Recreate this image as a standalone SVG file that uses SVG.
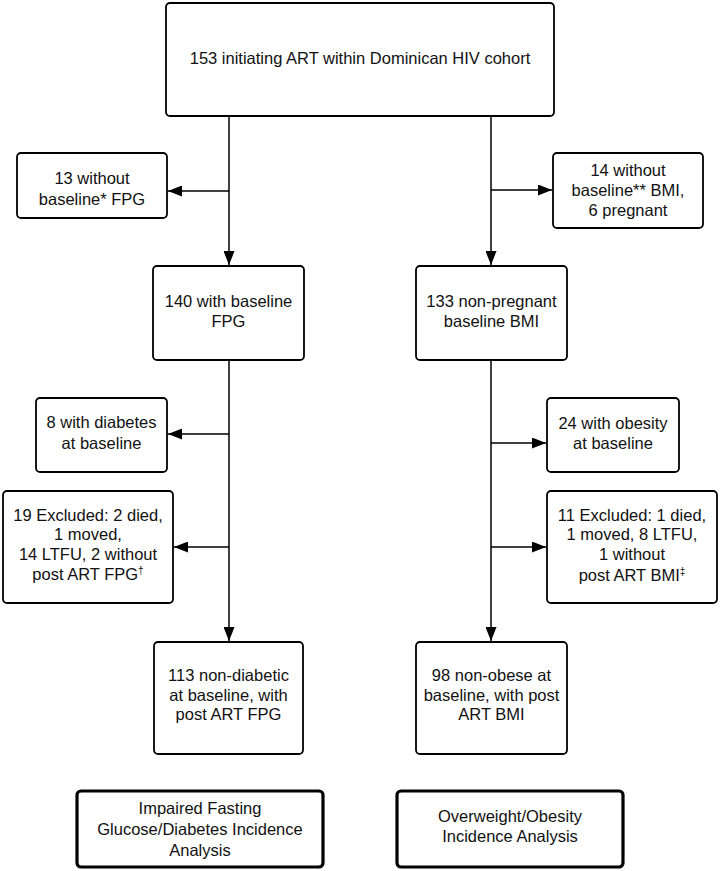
<svg xmlns="http://www.w3.org/2000/svg" width="720" height="871" viewBox="0 0 720 871">
<style>
.box{fill:#fff;stroke:#000;stroke-width:1.8}
.tbox{fill:#fff;stroke:#000;stroke-width:3.2}
.t{font-family:"Liberation Sans",Arial,sans-serif;font-size:16.5px;fill:#111;text-anchor:middle}
.sup{font-size:10px}
.c{fill:none;stroke:#000;stroke-width:1.5}
</style>
<defs>
<marker id="ah" markerWidth="14" markerHeight="11" refX="14" refY="5.5" orient="auto" markerUnits="userSpaceOnUse">
<path d="M0,0 L14,5.5 L0,11 Z" fill="#000"/>
</marker>
</defs>
<g id="connectors">
<path class="c" d="M229,116 V265" marker-end="url(#ah)"/>
<path class="c" d="M229,360 V641" marker-end="url(#ah)"/>
<path class="c" d="M491,116 V265" marker-end="url(#ah)"/>
<path class="c" d="M491,360 V641" marker-end="url(#ah)"/>
<path class="c" d="M229,191 H168" marker-end="url(#ah)"/>
<path class="c" d="M491,190 H552" marker-end="url(#ah)"/>
<path class="c" d="M229,434 H168" marker-end="url(#ah)"/>
<path class="c" d="M229,547 H174" marker-end="url(#ah)"/>
<path class="c" d="M491,443 H546" marker-end="url(#ah)"/>
<path class="c" d="M491,547 H546" marker-end="url(#ah)"/>
</g>
<g id="n-top">
<rect class="box" x="166" y="3" width="388" height="113" rx="4"/>
<text class="t" x="360" y="64">153 initiating ART within Dominican HIV cohort</text>
</g>
<g id="n-nofpg">
<rect class="box" x="17" y="153" width="150" height="65" rx="4"/>
<text class="t" x="92" y="184">13 without</text>
<text class="t" x="92" y="205">baseline* FPG</text>
</g>
<g id="n-nobmi">
<rect class="box" x="553" y="153" width="150" height="75" rx="4"/>
<text class="t" x="628" y="176">14 without</text>
<text class="t" x="628" y="196">baseline** BMI,</text>
<text class="t" x="628" y="216">6 pregnant</text>
</g>
<g id="n-fpg">
<rect class="box" x="153" y="266" width="151" height="94" rx="4"/>
<text class="t" x="228.5" y="307">140 with baseline</text>
<text class="t" x="228.5" y="327">FPG</text>
</g>
<g id="n-bmi">
<rect class="box" x="416" y="266" width="151" height="94" rx="4"/>
<text class="t" x="491.5" y="307">133 non-pregnant</text>
<text class="t" x="491.5" y="327">baseline BMI</text>
</g>
<g id="n-diab">
<rect class="box" x="36" y="398" width="131" height="74" rx="4"/>
<text class="t" x="101.5" y="428">8 with diabetes</text>
<text class="t" x="101.5" y="449">at baseline</text>
</g>
<g id="n-excl-l">
<rect class="box" x="3" y="491" width="170" height="112" rx="4"/>
<text class="t" x="88" y="521">19 Excluded: 2 died,</text>
<text class="t" x="88" y="540">1 moved,</text>
<text class="t" x="88" y="560">14 LTFU, 2 without</text>
<text class="t" x="88" y="580">post ART FPG<tspan class="sup" dy="-6">†</tspan></text>
</g>
<g id="n-obese">
<rect class="box" x="547" y="398" width="132" height="74" rx="4"/>
<text class="t" x="613" y="429">24 with obesity</text>
<text class="t" x="613" y="449">at baseline</text>
</g>
<g id="n-excl-r">
<rect class="box" x="547" y="491" width="170" height="112" rx="4"/>
<text class="t" x="632" y="521">11 Excluded: 1 died,</text>
<text class="t" x="632" y="540">1 moved, 8 LTFU,</text>
<text class="t" x="632" y="560">1 without</text>
<text class="t" x="632" y="581">post ART BMI<tspan class="sup" dy="-6">‡</tspan></text>
</g>
<g id="n-nondiab">
<rect class="box" x="154" y="642" width="149" height="112" rx="4"/>
<text class="t" x="228.5" y="681">113 non-diabetic</text>
<text class="t" x="228.5" y="701">at baseline, with</text>
<text class="t" x="228.5" y="720">post ART FPG</text>
</g>
<g id="n-nonobese">
<rect class="box" x="416" y="642" width="151" height="112" rx="4"/>
<text class="t" x="491.5" y="681">98 non-obese at</text>
<text class="t" x="491.5" y="701">baseline, with post</text>
<text class="t" x="491.5" y="720">ART BMI</text>
</g>
<g id="n-ifg">
<rect class="tbox" x="77" y="791" width="246" height="76" rx="4"/>
<text class="t" x="200" y="814">Impaired Fasting</text>
<text class="t" x="200" y="835">Glucose/Diabetes Incidence</text>
<text class="t" x="200" y="856">Analysis</text>
</g>
<g id="n-ow">
<rect class="tbox" x="397" y="791" width="226" height="76" rx="4"/>
<text class="t" x="510" y="822">Overweight/Obesity</text>
<text class="t" x="510" y="842">Incidence Analysis</text>
</g>
</svg>
